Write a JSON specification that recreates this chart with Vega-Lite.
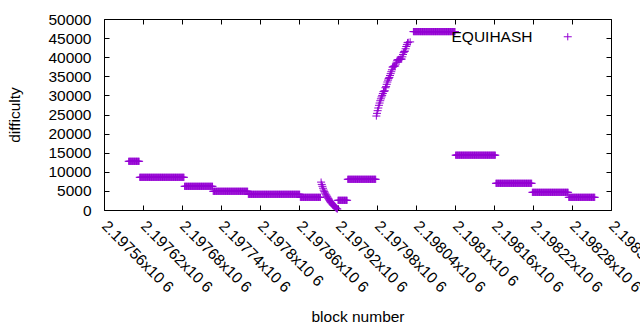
{
"$schema": "https://vega.github.io/schema/vega-lite/v6.json",
"width": 507, "height": 191,
"autosize": {"type": "none"},
"padding": {"left": 104, "top": 19, "right": 29, "bottom": 120},
"config": {
  "view": {"stroke": "#000", "strokeWidth": 1},
  "font": "Liberation Sans",
  "axis": {"domain": false, "grid": false, "tickColor": "#000", "tickSize": -5, "labelColor": "#000", "labelFontSize": 15.5, "labelFont": "Liberation Sans", "titleFont": "Liberation Sans", "titleFontSize": 15.5, "titleFontWeight": "normal", "titleColor": "#000", "labelOverlap": false, "labelFlush": false, "labelBound": false}
},
"datasets": {"pts": [
{"b":2197598,"d":12750},{"b":2197599,"d":12750},{"b":2197600,"d":12750},{"b":2197601,"d":12750},{"b":2197602,"d":12750},{"b":2197603,"d":12750},{"b":2197604,"d":12750},{"b":2197605,"d":12750},{"b":2197606,"d":12750},{"b":2197607,"d":12750},{"b":2197608,"d":12750},{"b":2197609,"d":12750},{"b":2197610,"d":12750},{"b":2197611,"d":12750},{"b":2197612,"d":12750},{"b":2197613,"d":12750},{"b":2197614,"d":12750},
{"b":2197615,"d":8560},{"b":2197616,"d":8560},{"b":2197617,"d":8560},{"b":2197618,"d":8560},{"b":2197619,"d":8560},{"b":2197620,"d":8560},{"b":2197621,"d":8560},{"b":2197622,"d":8560},{"b":2197623,"d":8560},{"b":2197624,"d":8560},{"b":2197625,"d":8560},{"b":2197626,"d":8560},{"b":2197627,"d":8560},{"b":2197628,"d":8560},{"b":2197629,"d":8560},{"b":2197630,"d":8560},{"b":2197631,"d":8560},{"b":2197632,"d":8560},{"b":2197633,"d":8560},{"b":2197634,"d":8560},{"b":2197635,"d":8560},{"b":2197636,"d":8560},{"b":2197637,"d":8560},{"b":2197638,"d":8560},{"b":2197639,"d":8560},{"b":2197640,"d":8560},{"b":2197641,"d":8560},{"b":2197642,"d":8560},{"b":2197643,"d":8560},{"b":2197644,"d":8560},{"b":2197645,"d":8560},{"b":2197646,"d":8560},{"b":2197647,"d":8560},{"b":2197648,"d":8560},{"b":2197649,"d":8560},{"b":2197650,"d":8560},{"b":2197651,"d":8560},{"b":2197652,"d":8560},{"b":2197653,"d":8560},{"b":2197654,"d":8560},{"b":2197655,"d":8560},{"b":2197656,"d":8560},{"b":2197657,"d":8560},{"b":2197658,"d":8560},{"b":2197659,"d":8560},{"b":2197660,"d":8560},{"b":2197661,"d":8560},{"b":2197662,"d":8560},{"b":2197663,"d":8560},{"b":2197664,"d":8560},{"b":2197665,"d":8560},{"b":2197666,"d":8560},{"b":2197667,"d":8560},{"b":2197668,"d":8560},{"b":2197669,"d":8560},{"b":2197670,"d":8560},{"b":2197671,"d":8560},{"b":2197672,"d":8560},{"b":2197673,"d":8560},{"b":2197674,"d":8560},{"b":2197675,"d":8560},{"b":2197676,"d":8560},{"b":2197677,"d":8560},{"b":2197678,"d":8560},{"b":2197679,"d":8560},{"b":2197680,"d":8560},{"b":2197681,"d":8560},{"b":2197682,"d":8560},{"b":2197683,"d":8560},
{"b":2197684,"d":6200},{"b":2197685,"d":6200},{"b":2197686,"d":6200},{"b":2197687,"d":6200},{"b":2197688,"d":6200},{"b":2197689,"d":6200},{"b":2197690,"d":6200},{"b":2197691,"d":6200},{"b":2197692,"d":6200},{"b":2197693,"d":6200},{"b":2197694,"d":6200},{"b":2197695,"d":6200},{"b":2197696,"d":6200},{"b":2197697,"d":6200},{"b":2197698,"d":6200},{"b":2197699,"d":6200},{"b":2197700,"d":6200},{"b":2197701,"d":6200},{"b":2197702,"d":6200},{"b":2197703,"d":6200},{"b":2197704,"d":6200},{"b":2197705,"d":6200},{"b":2197706,"d":6200},{"b":2197707,"d":6200},{"b":2197708,"d":6200},{"b":2197709,"d":6200},{"b":2197710,"d":6200},{"b":2197711,"d":6200},{"b":2197712,"d":6200},{"b":2197713,"d":6200},{"b":2197714,"d":6200},{"b":2197715,"d":6200},{"b":2197716,"d":6200},{"b":2197717,"d":6200},{"b":2197718,"d":6200},{"b":2197719,"d":6200},{"b":2197720,"d":6200},{"b":2197721,"d":6200},{"b":2197722,"d":6200},{"b":2197723,"d":6200},{"b":2197724,"d":6200},{"b":2197725,"d":6200},{"b":2197726,"d":6200},{"b":2197727,"d":6200},
{"b":2197728,"d":4900},{"b":2197729,"d":4900},{"b":2197730,"d":4900},{"b":2197731,"d":4900},{"b":2197732,"d":4900},{"b":2197733,"d":4900},{"b":2197734,"d":4900},{"b":2197735,"d":4900},{"b":2197736,"d":4900},{"b":2197737,"d":4900},{"b":2197738,"d":4900},{"b":2197739,"d":4900},{"b":2197740,"d":4900},{"b":2197741,"d":4900},{"b":2197742,"d":4900},{"b":2197743,"d":4900},{"b":2197744,"d":4900},{"b":2197745,"d":4900},{"b":2197746,"d":4900},{"b":2197747,"d":4900},{"b":2197748,"d":4900},{"b":2197749,"d":4900},{"b":2197750,"d":4900},{"b":2197751,"d":4900},{"b":2197752,"d":4900},{"b":2197753,"d":4900},{"b":2197754,"d":4900},{"b":2197755,"d":4900},{"b":2197756,"d":4900},{"b":2197757,"d":4900},{"b":2197758,"d":4900},{"b":2197759,"d":4900},{"b":2197760,"d":4900},{"b":2197761,"d":4900},{"b":2197762,"d":4900},{"b":2197763,"d":4900},{"b":2197764,"d":4900},{"b":2197765,"d":4900},{"b":2197766,"d":4900},{"b":2197767,"d":4900},{"b":2197768,"d":4900},{"b":2197769,"d":4900},{"b":2197770,"d":4900},{"b":2197771,"d":4900},{"b":2197772,"d":4900},{"b":2197773,"d":4900},{"b":2197774,"d":4900},{"b":2197775,"d":4900},{"b":2197776,"d":4900},{"b":2197777,"d":4900},{"b":2197778,"d":4900},{"b":2197779,"d":4900},{"b":2197780,"d":4900},{"b":2197781,"d":4900},
{"b":2197782,"d":4110},{"b":2197783,"d":4110},{"b":2197784,"d":4110},{"b":2197785,"d":4110},{"b":2197786,"d":4110},{"b":2197787,"d":4110},{"b":2197788,"d":4110},{"b":2197789,"d":4110},{"b":2197790,"d":4110},{"b":2197791,"d":4110},{"b":2197792,"d":4110},{"b":2197793,"d":4110},{"b":2197794,"d":4110},{"b":2197795,"d":4110},{"b":2197796,"d":4110},{"b":2197797,"d":4110},{"b":2197798,"d":4110},{"b":2197799,"d":4110},{"b":2197800,"d":4110},{"b":2197801,"d":4110},{"b":2197802,"d":4110},{"b":2197803,"d":4110},{"b":2197804,"d":4110},{"b":2197805,"d":4110},{"b":2197806,"d":4110},{"b":2197807,"d":4110},{"b":2197808,"d":4110},{"b":2197809,"d":4110},{"b":2197810,"d":4110},{"b":2197811,"d":4110},{"b":2197812,"d":4110},{"b":2197813,"d":4110},{"b":2197814,"d":4110},{"b":2197815,"d":4110},{"b":2197816,"d":4110},{"b":2197817,"d":4110},{"b":2197818,"d":4110},{"b":2197819,"d":4110},{"b":2197820,"d":4110},{"b":2197821,"d":4110},{"b":2197822,"d":4110},{"b":2197823,"d":4110},{"b":2197824,"d":4110},{"b":2197825,"d":4110},{"b":2197826,"d":4110},{"b":2197827,"d":4110},{"b":2197828,"d":4110},{"b":2197829,"d":4110},{"b":2197830,"d":4110},{"b":2197831,"d":4110},{"b":2197832,"d":4110},{"b":2197833,"d":4110},{"b":2197834,"d":4110},{"b":2197835,"d":4110},{"b":2197836,"d":4110},{"b":2197837,"d":4110},{"b":2197838,"d":4110},{"b":2197839,"d":4110},{"b":2197840,"d":4110},{"b":2197841,"d":4110},{"b":2197842,"d":4110},{"b":2197843,"d":4110},{"b":2197844,"d":4110},{"b":2197845,"d":4110},{"b":2197846,"d":4110},{"b":2197847,"d":4110},{"b":2197848,"d":4110},{"b":2197849,"d":4110},{"b":2197850,"d":4110},{"b":2197851,"d":4110},{"b":2197852,"d":4110},{"b":2197853,"d":4110},{"b":2197854,"d":4110},{"b":2197855,"d":4110},{"b":2197856,"d":4110},{"b":2197857,"d":4110},{"b":2197858,"d":4110},{"b":2197859,"d":4110},{"b":2197860,"d":4110},{"b":2197861,"d":4110},
{"b":2197862,"d":3320},{"b":2197863,"d":3320},{"b":2197864,"d":3320},{"b":2197865,"d":3320},{"b":2197866,"d":3320},{"b":2197867,"d":3320},{"b":2197868,"d":3320},{"b":2197869,"d":3320},{"b":2197870,"d":3320},{"b":2197871,"d":3320},{"b":2197872,"d":3320},{"b":2197873,"d":3320},{"b":2197874,"d":3320},{"b":2197875,"d":3320},{"b":2197876,"d":3320},{"b":2197877,"d":3320},{"b":2197878,"d":3320},{"b":2197879,"d":3320},{"b":2197880,"d":3320},{"b":2197881,"d":3320},{"b":2197882,"d":3320},{"b":2197883,"d":3320},{"b":2197884,"d":3320},{"b":2197885,"d":3320},{"b":2197886,"d":3320},{"b":2197887,"d":3320},{"b":2197888,"d":3320},{"b":2197889,"d":3320},{"b":2197890,"d":3320},{"b":2197891,"d":3320},{"b":2197892,"d":3320},{"b":2197893,"d":3320},
{"b":2197894,"d":7300},{"b":2197895,"d":6700},{"b":2197896,"d":6200},{"b":2197897,"d":5700},{"b":2197898,"d":5200},{"b":2197899,"d":4800},{"b":2197900,"d":4450},{"b":2197901,"d":4150},{"b":2197902,"d":3900},{"b":2197903,"d":3600},{"b":2197904,"d":3350},{"b":2197905,"d":3050},{"b":2197906,"d":2800},{"b":2197907,"d":2500},{"b":2197908,"d":2200},{"b":2197909,"d":2000},{"b":2197910,"d":1800},{"b":2197911,"d":1600},{"b":2197912,"d":1400},{"b":2197913,"d":1200},{"b":2197914,"d":1050},{"b":2197915,"d":900},{"b":2197916,"d":700},{"b":2197917,"d":500},{"b":2197918,"d":350},{"b":2197919,"d":250},
{"b":2197920,"d":2540},{"b":2197921,"d":2540},{"b":2197922,"d":2540},{"b":2197923,"d":2540},{"b":2197924,"d":2540},{"b":2197925,"d":2540},{"b":2197926,"d":2540},{"b":2197927,"d":2540},{"b":2197928,"d":2540},{"b":2197929,"d":2540},{"b":2197930,"d":2540},{"b":2197931,"d":2540},{"b":2197932,"d":2540},{"b":2197933,"d":2540},{"b":2197934,"d":2540},
{"b":2197935,"d":8040},{"b":2197936,"d":8040},{"b":2197937,"d":8040},{"b":2197938,"d":8040},{"b":2197939,"d":8040},{"b":2197940,"d":8040},{"b":2197941,"d":8040},{"b":2197942,"d":8040},{"b":2197943,"d":8040},{"b":2197944,"d":8040},{"b":2197945,"d":8040},{"b":2197946,"d":8040},{"b":2197947,"d":8040},{"b":2197948,"d":8040},{"b":2197949,"d":8040},{"b":2197950,"d":8040},{"b":2197951,"d":8040},{"b":2197952,"d":8040},{"b":2197953,"d":8040},{"b":2197954,"d":8040},{"b":2197955,"d":8040},{"b":2197956,"d":8040},{"b":2197957,"d":8040},{"b":2197958,"d":8040},{"b":2197959,"d":8040},{"b":2197960,"d":8040},{"b":2197961,"d":8040},{"b":2197962,"d":8040},{"b":2197963,"d":8040},{"b":2197964,"d":8040},{"b":2197965,"d":8040},{"b":2197966,"d":8040},{"b":2197967,"d":8040},{"b":2197968,"d":8040},{"b":2197969,"d":8040},{"b":2197970,"d":8040},{"b":2197971,"d":8040},{"b":2197972,"d":8040},{"b":2197973,"d":8040},{"b":2197974,"d":8040},{"b":2197975,"d":8040},{"b":2197976,"d":8040},{"b":2197977,"d":8040},{"b":2197978,"d":8040},
{"b":2197979,"d":24600},{"b":2197980,"d":25300},{"b":2197981,"d":26000},{"b":2197982,"d":26700},{"b":2197983,"d":27400},{"b":2197984,"d":28000},{"b":2197985,"d":28600},{"b":2197986,"d":29100},{"b":2197987,"d":29600},{"b":2197988,"d":30000},{"b":2197989,"d":30500},{"b":2197990,"d":31000},{"b":2197991,"d":31100},{"b":2197992,"d":31200},{"b":2197993,"d":32000},{"b":2197994,"d":32300},{"b":2197995,"d":32900},{"b":2197996,"d":33500},{"b":2197997,"d":34000},{"b":2197998,"d":34400},{"b":2197999,"d":34700},{"b":2198000,"d":35200},{"b":2198001,"d":35700},{"b":2198002,"d":36200},{"b":2198003,"d":36700},{"b":2198004,"d":37400},{"b":2198005,"d":37500},{"b":2198006,"d":37600},{"b":2198007,"d":37700},{"b":2198008,"d":37700},{"b":2198009,"d":38200},{"b":2198010,"d":38700},{"b":2198011,"d":39200},{"b":2198012,"d":39300},{"b":2198013,"d":39400},{"b":2198014,"d":39400},{"b":2198015,"d":39400},{"b":2198016,"d":39500},{"b":2198017,"d":39500},{"b":2198018,"d":39500},{"b":2198019,"d":40100},{"b":2198020,"d":40700},{"b":2198021,"d":41200},{"b":2198022,"d":41500},{"b":2198023,"d":41600},{"b":2198024,"d":42200},{"b":2198025,"d":42800},{"b":2198026,"d":43300},{"b":2198027,"d":43800},{"b":2198028,"d":43900},{"b":2198031,"d":44000},
{"b":2198036,"d":46700},{"b":2198037,"d":46700},{"b":2198038,"d":46700},{"b":2198039,"d":46700},{"b":2198040,"d":46700},{"b":2198041,"d":46700},{"b":2198042,"d":46700},{"b":2198043,"d":46700},{"b":2198044,"d":46700},{"b":2198045,"d":46700},{"b":2198046,"d":46700},{"b":2198047,"d":46700},{"b":2198048,"d":46700},{"b":2198049,"d":46700},{"b":2198050,"d":46700},{"b":2198051,"d":46700},{"b":2198052,"d":46700},{"b":2198053,"d":46700},{"b":2198054,"d":46700},{"b":2198055,"d":46700},{"b":2198056,"d":46700},{"b":2198057,"d":46700},{"b":2198058,"d":46700},{"b":2198059,"d":46700},{"b":2198060,"d":46700},{"b":2198061,"d":46700},{"b":2198062,"d":46700},{"b":2198063,"d":46700},{"b":2198064,"d":46700},{"b":2198065,"d":46700},{"b":2198066,"d":46700},{"b":2198067,"d":46700},{"b":2198068,"d":46700},{"b":2198069,"d":46700},{"b":2198070,"d":46700},{"b":2198071,"d":46700},{"b":2198072,"d":46700},{"b":2198073,"d":46700},{"b":2198074,"d":46700},{"b":2198075,"d":46700},{"b":2198076,"d":46700},{"b":2198077,"d":46700},{"b":2198078,"d":46700},{"b":2198079,"d":46700},{"b":2198080,"d":46700},{"b":2198081,"d":46700},{"b":2198082,"d":46700},{"b":2198083,"d":46700},{"b":2198084,"d":46700},{"b":2198085,"d":46700},{"b":2198086,"d":46700},{"b":2198087,"d":46700},{"b":2198088,"d":46700},{"b":2198089,"d":46700},{"b":2198090,"d":46700},{"b":2198091,"d":46700},{"b":2198092,"d":46700},{"b":2198093,"d":46700},{"b":2198094,"d":46700},{"b":2198095,"d":46700},{"b":2198096,"d":46700},{"b":2198097,"d":46700},{"b":2198098,"d":46700},{"b":2198099,"d":46700},{"b":2198100,"d":46700},
{"b":2198101,"d":14350},{"b":2198102,"d":14350},{"b":2198103,"d":14350},{"b":2198104,"d":14350},{"b":2198105,"d":14350},{"b":2198106,"d":14350},{"b":2198107,"d":14350},{"b":2198108,"d":14350},{"b":2198109,"d":14350},{"b":2198110,"d":14350},{"b":2198111,"d":14350},{"b":2198112,"d":14350},{"b":2198113,"d":14350},{"b":2198114,"d":14350},{"b":2198115,"d":14350},{"b":2198116,"d":14350},{"b":2198117,"d":14350},{"b":2198118,"d":14350},{"b":2198119,"d":14350},{"b":2198120,"d":14350},{"b":2198121,"d":14350},{"b":2198122,"d":14350},{"b":2198123,"d":14350},{"b":2198124,"d":14350},{"b":2198125,"d":14350},{"b":2198126,"d":14350},{"b":2198127,"d":14350},{"b":2198128,"d":14350},{"b":2198129,"d":14350},{"b":2198130,"d":14350},{"b":2198131,"d":14350},{"b":2198132,"d":14350},{"b":2198133,"d":14350},{"b":2198134,"d":14350},{"b":2198135,"d":14350},{"b":2198136,"d":14350},{"b":2198137,"d":14350},{"b":2198138,"d":14350},{"b":2198139,"d":14350},{"b":2198140,"d":14350},{"b":2198141,"d":14350},{"b":2198142,"d":14350},{"b":2198143,"d":14350},{"b":2198144,"d":14350},{"b":2198145,"d":14350},{"b":2198146,"d":14350},{"b":2198147,"d":14350},{"b":2198148,"d":14350},{"b":2198149,"d":14350},{"b":2198150,"d":14350},{"b":2198151,"d":14350},{"b":2198152,"d":14350},{"b":2198153,"d":14350},{"b":2198154,"d":14350},{"b":2198155,"d":14350},{"b":2198156,"d":14350},{"b":2198157,"d":14350},{"b":2198158,"d":14350},{"b":2198159,"d":14350},{"b":2198160,"d":14350},{"b":2198161,"d":14350},{"b":2198162,"d":14350},
{"b":2198163,"d":6990},{"b":2198164,"d":6990},{"b":2198165,"d":6990},{"b":2198166,"d":6990},{"b":2198167,"d":6990},{"b":2198168,"d":6990},{"b":2198169,"d":6990},{"b":2198170,"d":6990},{"b":2198171,"d":6990},{"b":2198172,"d":6990},{"b":2198173,"d":6990},{"b":2198174,"d":6990},{"b":2198175,"d":6990},{"b":2198176,"d":6990},{"b":2198177,"d":6990},{"b":2198178,"d":6990},{"b":2198179,"d":6990},{"b":2198180,"d":6990},{"b":2198181,"d":6990},{"b":2198182,"d":6990},{"b":2198183,"d":6990},{"b":2198184,"d":6990},{"b":2198185,"d":6990},{"b":2198186,"d":6990},{"b":2198187,"d":6990},{"b":2198188,"d":6990},{"b":2198189,"d":6990},{"b":2198190,"d":6990},{"b":2198191,"d":6990},{"b":2198192,"d":6990},{"b":2198193,"d":6990},{"b":2198194,"d":6990},{"b":2198195,"d":6990},{"b":2198196,"d":6990},{"b":2198197,"d":6990},{"b":2198198,"d":6990},{"b":2198199,"d":6990},{"b":2198200,"d":6990},{"b":2198201,"d":6990},{"b":2198202,"d":6990},{"b":2198203,"d":6990},{"b":2198204,"d":6990},{"b":2198205,"d":6990},{"b":2198206,"d":6990},{"b":2198207,"d":6990},{"b":2198208,"d":6990},{"b":2198209,"d":6990},{"b":2198210,"d":6990},{"b":2198211,"d":6990},{"b":2198212,"d":6990},{"b":2198213,"d":6990},{"b":2198214,"d":6990},{"b":2198215,"d":6990},{"b":2198216,"d":6990},{"b":2198217,"d":6990},{"b":2198218,"d":6990},
{"b":2198219,"d":4630},{"b":2198220,"d":4630},{"b":2198221,"d":4630},{"b":2198222,"d":4630},{"b":2198223,"d":4630},{"b":2198224,"d":4630},{"b":2198225,"d":4630},{"b":2198226,"d":4630},{"b":2198227,"d":4630},{"b":2198228,"d":4630},{"b":2198229,"d":4630},{"b":2198230,"d":4630},{"b":2198231,"d":4630},{"b":2198232,"d":4630},{"b":2198233,"d":4630},{"b":2198234,"d":4630},{"b":2198235,"d":4630},{"b":2198236,"d":4630},{"b":2198237,"d":4630},{"b":2198238,"d":4630},{"b":2198239,"d":4630},{"b":2198240,"d":4630},{"b":2198241,"d":4630},{"b":2198242,"d":4630},{"b":2198243,"d":4630},{"b":2198244,"d":4630},{"b":2198245,"d":4630},{"b":2198246,"d":4630},{"b":2198247,"d":4630},{"b":2198248,"d":4630},{"b":2198249,"d":4630},{"b":2198250,"d":4630},{"b":2198251,"d":4630},{"b":2198252,"d":4630},{"b":2198253,"d":4630},{"b":2198254,"d":4630},{"b":2198255,"d":4630},{"b":2198256,"d":4630},{"b":2198257,"d":4630},{"b":2198258,"d":4630},{"b":2198259,"d":4630},{"b":2198260,"d":4630},{"b":2198261,"d":4630},{"b":2198262,"d":4630},{"b":2198263,"d":4630},{"b":2198264,"d":4630},{"b":2198265,"d":4630},{"b":2198266,"d":4630},{"b":2198267,"d":4630},{"b":2198268,"d":4630},{"b":2198269,"d":4630},{"b":2198270,"d":4630},{"b":2198271,"d":4630},{"b":2198272,"d":4630},{"b":2198273,"d":4630},{"b":2198274,"d":4630},
{"b":2198275,"d":3320},{"b":2198276,"d":3320},{"b":2198277,"d":3320},{"b":2198278,"d":3320},{"b":2198279,"d":3320},{"b":2198280,"d":3320},{"b":2198281,"d":3320},{"b":2198282,"d":3320},{"b":2198283,"d":3320},{"b":2198284,"d":3320},{"b":2198285,"d":3320},{"b":2198286,"d":3320},{"b":2198287,"d":3320},{"b":2198288,"d":3320},{"b":2198289,"d":3320},{"b":2198290,"d":3320},{"b":2198291,"d":3320},{"b":2198292,"d":3320},{"b":2198293,"d":3320},{"b":2198294,"d":3320},{"b":2198295,"d":3320},{"b":2198296,"d":3320},{"b":2198297,"d":3320},{"b":2198298,"d":3320},{"b":2198299,"d":3320},{"b":2198300,"d":3320},{"b":2198301,"d":3320},{"b":2198302,"d":3320},{"b":2198303,"d":3320},{"b":2198304,"d":3320},{"b":2198305,"d":3320},{"b":2198306,"d":3320},{"b":2198307,"d":3320},{"b":2198308,"d":3320},{"b":2198309,"d":3320},{"b":2198310,"d":3320},{"b":2198311,"d":3320},{"b":2198312,"d":3320},{"b":2198313,"d":3320},{"b":2198314,"d":3320},{"b":2198315,"d":3320}
]},
"layer": [
  {
    "data": {"name": "pts"},
    "mark": {"type": "point", "shape": "M-1,0H1M0,-0.9V0.9", "size": 64, "filled": false, "strokeWidth": 1, "opacity": 1},
    "encoding": {
      "x": {"field": "b", "type": "quantitative", "scale": {"domain": [2197560, 2198340], "nice": false, "zero": false},
        "axis": {"orient": "bottom", "title": "block number", "values": [2197560,2197620,2197680,2197740,2197800,2197860,2197920,2197980,2198040,2198100,2198160,2198220,2198280,2198340],
          "labelExpr": "format(datum.value/1000000, '.6~g') + 'x10 6'", "labelAngle": 45, "labelAlign": "left", "labelBaseline": "middle", "labelPadding": 18, "titlePadding": 14}},
      "y": {"field": "d", "type": "quantitative", "scale": {"domain": [0, 50000], "nice": false},
        "axis": {"orient": "left", "title": "difficulty", "values": [0,5000,10000,15000,20000,25000,30000,35000,40000,45000,50000], "format": "d", "labelPadding": 18, "titlePadding": 25}},
      "color": {"datum": "EQUIHASH", "type": "nominal", "scale": {"range": ["#9400d3"]},
        "legend": {"title": null, "orient": "none", "legendX": 456, "legendY": 10, "padding": 0, "labelAlign": "right", "labelOffset": -43, "labelFontSize": 15.5, "labelFont": "Liberation Sans", "labelColor": "#000", "symbolType": "M-1,0H1M0,-0.9V0.9", "symbolSize": 64, "symbolStrokeWidth": 1, "symbolFillColor": "transparent", "symbolStrokeColor": "#9400d3"}}
    }
  },
  {
    "data": {"name": "pts"},
    "mark": {"type": "point", "opacity": 0},
    "encoding": {
      "x": {"field": "b", "type": "quantitative", "axis": {"orient": "top", "title": null, "labels": false, "values": [2197560,2197620,2197680,2197740,2197800,2197860,2197920,2197980,2198040,2198100,2198160,2198220,2198280,2198340]}},
      "y": {"field": "d", "type": "quantitative", "axis": {"orient": "right", "title": null, "labels": false, "values": [0,5000,10000,15000,20000,25000,30000,35000,40000,45000,50000]}}
    }
  }
],
"resolve": {"axis": {"x": "independent", "y": "independent"}}
}
